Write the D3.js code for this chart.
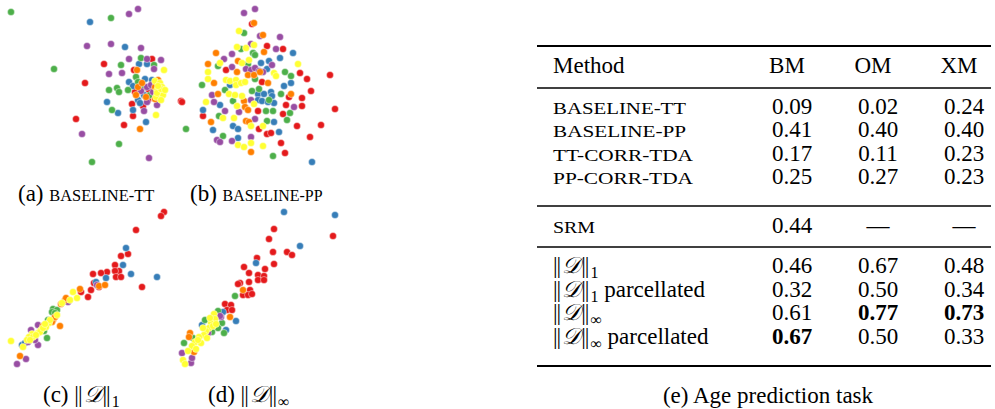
<!DOCTYPE html>
<html>
<head>
<meta charset="utf-8">
<script src="https://cdn.jsdelivr.net/npm/d3@7"></script>
<style>
body { margin: 0; background: #fff; }
svg text { font-family: "Liberation Serif", "Times New Roman", serif; fill: #000; }
</style>
</head>
<body>
<svg id="fig"></svg>
<script>
const WIDTH = 995, HEIGHT = 409;
const SERIF = "'Liberation Serif', 'Times New Roman', serif";

// class keys and their colours (drawing order = this order)
const classKeys = ["r", "b", "g", "p", "o", "y"];
const classColors = ["#e41a1c", "#377eb8", "#4daf4a", "#984ea3", "#ff7f00", "#ffff33"];

// embedding coordinates of each subject, one list per panel: [x, y, class]
const pointsBaselineTT = [
  [11,12,"g"],[129,14,"p"],[138,9,"p"],[111,18,"g"],[90,22,"b"],[87,46,"p"],[111,44,"p"],[125,47,"b"],
  [141,48,"p"],[54,69,"g"],[104,64,"r"],[121,65,"g"],[129,59,"p"],[141,58,"g"],[147,59,"p"],[152,59,"r"],
  [161,60,"p"],[147,64,"b"],[154,65,"g"],[154,69,"p"],[164,70,"y"],[134,70,"r"],[139,64,"b"],[109,74,"p"],
  [122,73,"p"],[85,83,"r"],[109,90,"g"],[117,88,"g"],[119,92,"g"],[128,90,"g"],[107,102,"b"],[112,110,"g"],
  [118,113,"b"],[133,110,"b"],[132,104,"r"],[133,116,"r"],[144,111,"p"],[76,119,"r"],[124,125,"r"],
  [146,122,"b"],[156,115,"y"],[140,129,"o"],[82,134,"p"],[119,144,"g"],[149,158,"p"],[92,162,"g"],
  [157,105,"p"],[137,70,"o"],[129,82,"b"],[133,86,"b"],[136,77,"g"],[138,82,"g"],[138,87,"o"],[145,79,"b"],
  [144,87,"g"],[141,91,"p"],[136,95,"o"],[138,100,"b"],[135,92,"r"],[147,87,"p"],[152,80,"b"],[158,80,"o"],
  [155,87,"o"],[151,85,"p"],[150,95,"g"],[146,97,"o"],[148,100,"r"],[147,102,"p"],[155,99,"o"],[140,103,"b"],
  [143,106,"r"],[142,83,"o"],[149,90,"r"],[153,92,"p"],[144,95,"b"],
  [155,81,"y"],[160,83,"y"],[162,87,"y"],[157,90,"y"],[163,92,"y"],[159,95,"y"],[156,97,"y"],[163,95,"y"],
  [161,100,"y"],[157,93,"y"],[161,89,"y"],[158,86,"y"],[165,90,"y"],[181,101,"r"]
];

const pointsBaselinePP = [
  [69,13,"p"],[80,9,"p"],[77,24,"r"],[79,23,"o"],[64,31,"y"],[69,33,"g"],[85,36,"p"],[88,35,"o"],
  [105,37,"p"],[76,44,"p"],[62,47,"y"],[66,49,"g"],[71,48,"y"],[79,45,"y"],[92,46,"r"],[101,49,"p"],
  [108,49,"r"],[41,53,"o"],[57,54,"p"],[78,53,"g"],[80,55,"g"],[89,52,"o"],[118,53,"b"],[105,58,"b"],
  [49,59,"p"],[63,61,"o"],[67,63,"y"],[74,60,"y"],[73,64,"g"],[86,63,"b"],[94,61,"b"],[97,65,"p"],
  [123,64,"y"],[33,64,"o"],[45,63,"y"],[43,66,"g"],[57,67,"p"],[62,72,"o"],[51,70,"r"],[71,69,"p"],
  [76,70,"p"],[80,68,"p"],[84,71,"p"],[88,72,"p"],[92,69,"b"],[73,75,"o"],[79,75,"o"],[85,72,"o"],
  [80,79,"g"],[99,73,"y"],[101,76,"y"],[110,72,"g"],[116,76,"g"],[125,73,"r"],[132,79,"r"],[155,75,"r"],
  [33,72,"y"],[33,79,"y"],[39,83,"o"],[27,85,"g"],[51,80,"y"],[55,81,"y"],[61,80,"y"],[61,85,"y"],
  [66,83,"y"],[70,82,"y"],[55,85,"b"],[87,82,"r"],[93,83,"o"],[116,83,"b"],[109,86,"b"],[136,91,"r"],
  [50,90,"g"],[54,94,"y"],[60,95,"y"],[67,96,"y"],[77,91,"g"],[84,89,"g"],[83,94,"b"],[89,94,"b"],
  [96,92,"b"],[97,96,"b"],[43,94,"o"],[37,95,"p"],[7,102,"r"],[106,94,"g"],[116,94,"o"],[114,97,"r"],
  [127,98,"r"],[31,102,"y"],[39,102,"p"],[58,101,"g"],[69,101,"o"],[76,100,"p"],[83,100,"b"],[87,101,"b"],
  [94,100,"g"],[99,103,"b"],[93,102,"b"],[111,105,"r"],[127,106,"r"],[160,109,"r"],[28,110,"b"],[45,105,"b"],
  [62,106,"y"],[64,112,"p"],[50,111,"p"],[70,107,"o"],[73,110,"o"],[79,104,"y"],[83,111,"r"],[91,111,"g"],
  [98,111,"g"],[119,107,"p"],[115,113,"g"],[108,114,"r"],[28,116,"r"],[44,116,"g"],[48,118,"y"],[59,118,"y"],
  [80,119,"p"],[71,121,"o"],[74,122,"o"],[84,129,"r"],[92,121,"g"],[99,122,"b"],[112,120,"g"],[122,126,"r"],
  [146,125,"r"],[36,122,"o"],[58,126,"b"],[63,129,"b"],[76,126,"y"],[88,126,"y"],[11,129,"g"],[38,130,"b"],
  [92,134,"r"],[96,133,"r"],[104,132,"b"],[135,137,"r"],[48,136,"g"],[42,140,"p"],[45,142,"p"],[57,141,"p"],
  [76,137,"p"],[63,138,"b"],[63,145,"y"],[69,147,"y"],[76,143,"y"],[88,146,"y"],[106,143,"r"],[76,152,"o"],
  [98,156,"g"],[110,153,"r"],[137,162,"b"]
];

const pointsNorm1 = [
  [164,12,"r"],[161,16,"r"],[136,30,"r"],[126,48,"b"],[121,56,"r"],[128,54,"r"],[123,65,"b"],[115,65,"r"],
  [119,71,"r"],[115,71,"r"],[107,72,"r"],[101,73,"r"],[93,74,"r"],[131,74,"b"],[116,77,"r"],[121,77,"r"],
  [106,78,"b"],[157,77,"b"],[142,87,"r"],[94,83,"r"],[96,82,"b"],[97,85,"p"],[99,87,"r"],[99,86,"o"],
  [105,85,"o"],[91,90,"r"],[81,92,"r"],[80,89,"o"],[73,92,"y"],[77,98,"y"],[70,100,"y"],[88,97,"r"],
  [65,100,"o"],[61,104,"o"],[68,102,"p"],[53,109,"g"],[57,110,"g"],[52,112,"g"],[57,115,"y"],[53,120,"o"],
  [52,122,"o"],[60,126,"o"],[49,123,"y"],[46,127,"y"],[41,130,"y"],[38,133,"y"],[32,134,"y"],[29,137,"y"],
  [27,140,"y"],[23,147,"y"],[38,125,"p"],[31,130,"p"],[38,145,"p"],[47,138,"g"],[11,141,"y"],[20,156,"o"],
  [26,159,"p"],[17,164,"p"],[22,145,"b"],[50,120,"y"],[40,132,"y"],[33,137,"y"],[43,128,"y"],[43,126,"o"],
  [48,120,"g"],[35,140,"p"],[25,143,"b"],[36,135,"y"],[30,140,"y"],[45,124,"y"],[55,113,"g"],[66,98,"o"],
  [62,103,"y"],[55,117,"o"],[44,131,"g"],[28,142,"p"]
];

const pointsNormInf = [
  [109,12,"b"],[160,15,"b"],[158,36,"r"],[99,29,"r"],[94,39,"r"],[125,46,"b"],[98,52,"r"],[112,52,"r"],
  [117,55,"r"],[82,58,"r"],[81,63,"b"],[99,64,"r"],[69,67,"r"],[90,69,"r"],[74,73,"r"],[83,75,"r"],
  [89,76,"r"],[83,80,"r"],[89,80,"r"],[65,83,"r"],[63,84,"r"],[74,82,"r"],[68,90,"o"],[75,90,"r"],
  [68,95,"r"],[73,95,"r"],[77,94,"r"],[60,96,"g"],[50,104,"r"],[56,105,"r"],[52,110,"r"],[57,110,"r"],
  [48,112,"b"],[55,117,"o"],[61,121,"b"],[43,111,"g"],[46,117,"p"],[39,114,"y"],[40,119,"y"],[36,123,"y"],
  [34,128,"y"],[31,131,"y"],[29,135,"y"],[24,137,"y"],[20,142,"y"],[17,146,"y"],[13,151,"y"],[8,160,"y"],
  [10,164,"y"],[26,143,"y"],[32,138,"y"],[21,149,"y"],[30,120,"g"],[47,123,"g"],[43,128,"g"],[49,133,"g"],
  [51,130,"b"],[27,125,"b"],[15,133,"o"],[14,137,"o"],[18,138,"g"],[9,143,"g"],[7,153,"p"],[16,163,"p"],
  [17,158,"p"],[19,152,"o"],[37,132,"g"],[33,133,"p"],[35,118,"y"],[38,126,"y"],[28,128,"y"],[23,140,"y"],
  [45,116,"p"],[41,124,"y"]
];

// table values
const columns = ["BM", "OM", "XM"];
const baselineMethods = ["BASELINE-TT", "BASELINE-PP", "TT-CORR-TDA", "PP-CORR-TDA"];
const baselineBM = [0.09, 0.41, 0.17, 0.25];
const baselineOM = [0.02, 0.40, 0.11, 0.27];
const baselineXM = [0.24, 0.40, 0.23, 0.23];
const srmValues = [0.44, null, null];
const normSubscripts = ["1", "1", "∞", "∞"];
const normSuffixes = ["", " parcellated", "", " parcellated"];
const normBM = [0.46, 0.32, 0.61, 0.67];
const normOM = [0.67, 0.50, 0.77, 0.50];
const normXM = [0.48, 0.34, 0.73, 0.33];
const bestBM = 0.67, bestOM = 0.77, bestXM = 0.73;

const svg = d3.select("svg#fig")
    .attr("width", WIDTH)
    .attr("height", HEIGHT);

svg.append("rect").attr("width", WIDTH).attr("height", HEIGHT).attr("fill", "#fff");

// ---------- scatter panels ----------
const panels = [
  { data: pointsBaselineTT, x0: 0,   y0: 0,   w: 180, h: 170 },
  { data: pointsBaselinePP, x0: 175, y0: 0,   w: 190, h: 170 },
  { data: pointsNorm1,      x0: 0,   y0: 200, w: 180, h: 175 },
  { data: pointsNormInf,    x0: 175, y0: 200, w: 190, h: 175 }
];

const colour = d3.scaleOrdinal().domain(classKeys).range(classColors);

panels.forEach((p) => {
  const x = d3.scaleLinear().domain([0, p.w]).range([p.x0, p.x0 + p.w]);
  const y = d3.scaleLinear().domain([0, p.h]).range([p.y0, p.y0 + p.h]);
  const sorted = p.data.slice().sort((a, b) => classKeys.indexOf(a[2]) - classKeys.indexOf(b[2]));
  svg.append("g")
    .selectAll("circle")
    .data(sorted)
    .join("circle")
      .attr("cx", (d) => x(d[0]))
      .attr("cy", (d) => y(d[1]))
      .attr("r", 3.5)
      .attr("fill", (d) => colour(d[2]))
      .attr("stroke", "#fff")
      .attr("stroke-opacity", 0.55)
      .attr("stroke-width", 0.8);
});

// ---------- captions ----------
const FS = 23;

function serifText(parent, x, y) {
  return parent.append("text")
    .attr("x", x).attr("y", y)
    .attr("font-family", SERIF)
    .style("font-size", FS + "px");
}

function smallCaps(sel, txt, len) {
  return sel.append("tspan")
    .style("font-size", "16px")
    .attr("textLength", len)
    .attr("lengthAdjust", "spacingAndGlyphs")
    .text(txt);
}

// ||D||_sub drawn from plain serif bars, a script D and a lowered subscript
function norm(textSel, sub) {
  textSel.append("tspan").style("letter-spacing", "-1px").text("||");
  textSel.append("tspan").attr("dx", 2).style("font-style", "italic").text("𝒟");
  textSel.append("tspan").attr("dx", 1).style("letter-spacing", "-1px").text("||");
  textSel.append("tspan").attr("dx", 2).attr("dy", 5).style("font-size", "16px").text(sub);
}

let t = serifText(svg, 18, 201);
t.append("tspan").text("(a) ");
smallCaps(t, "BASELINE-TT", 105);

t = serifText(svg, 190, 201);
t.append("tspan").text("(b) ");
smallCaps(t, "BASELINE-PP", 100);

t = serifText(svg, 43, 402);
t.append("tspan").text("(c) ");
norm(t, "1");

t = serifText(svg, 208, 402);
t.append("tspan").text("(d) ");
norm(t, "∞");

// ---------- table ----------
const table = svg.append("g").attr("id", "table");
const tableLeft = 537, tableRight = 991, labelX = 553;
const colX = d3.scalePoint().domain(columns).range([790, 962]);

const rules = [
  { y: 46, w: 2 }, { y: 88, w: 1.3 }, { y: 206, w: 1.3 }, { y: 247, w: 1.3 }, { y: 366, w: 2 }
];
table.selectAll("line.rule")
  .data(rules)
  .join("line")
    .attr("class", "rule")
    .attr("x1", tableLeft).attr("x2", tableRight)
    .attr("y1", (d) => d.y).attr("y2", (d) => d.y)
    .attr("stroke", "#000")
    .attr("stroke-width", (d) => d.w);

serifText(table, labelX, 73).text("Method");
columns.forEach((c) => {
  serifText(table, colX(c) - 3, 73).attr("text-anchor", "middle").text(c);
});

function valueCells(rowY, vals, best) {
  vals.forEach((v, i) => {
    serifText(table, colX(columns[i]) + 2, rowY)
      .attr("text-anchor", "middle")
      .style("font-weight", v !== null && v === best[i] ? "bold" : "normal")
      .text(v === null ? "—" : v.toFixed(2));
  });
}

const smallCapsLen = [133, 133, 140, 140];
baselineMethods.forEach((m, i) => {
  const rowY = 114 + i * 23.4;
  smallCaps(serifText(table, labelX, rowY), m, smallCapsLen[i]);
  valueCells(rowY, [baselineBM[i], baselineOM[i], baselineXM[i]], [null, null, null]);
});

smallCaps(serifText(table, labelX, 233), "SRM", 42);
valueCells(233, srmValues, [null, null, null]);

normSubscripts.forEach((s, i) => {
  const rowY = 273 + i * 23.7;
  const lab = serifText(table, labelX, rowY);
  norm(lab, s);
  if (normSuffixes[i]) lab.append("tspan").attr("dy", -5).text(normSuffixes[i]);
  valueCells(rowY, [normBM[i], normOM[i], normXM[i]], [bestBM, bestOM, bestXM]);
});

serifText(table, 768, 403)
  .attr("text-anchor", "middle")
  .text("(e) Age prediction task");
</script>
</body>
</html>
